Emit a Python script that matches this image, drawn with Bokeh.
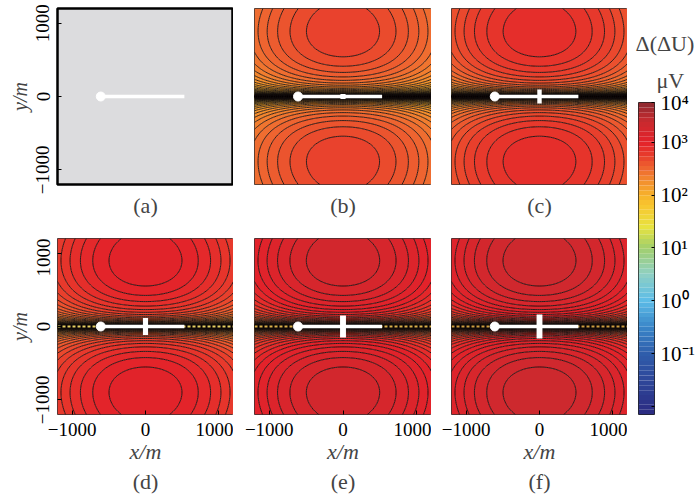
import numpy as np
from bokeh.plotting import figure
from bokeh.layouts import row, column
from bokeh.models import Range1d, FixedTicker, Title
from bokeh.embed import file_html
from bokeh.resources import INLINE

# ---------------- data ----------------
panel_names = ["(a)", "(b)", "(c)", "(d)", "(e)", "(f)"]
# log10 of the peak Δ(ΔU) (μV) in each panel; panel (a) has no anomaly
peak_log = [None, 2.73, 2.90, 3.05, 3.27, 3.35]
# half-width (km) of the dense band of contours along y = 0
band_width = [None, 0.09, 0.09, 0.12, 0.12, 0.12]
# contour interval (decades)
level_step = 0.05
# white cross at the target (width / height, m)
cross_width = [0, 70, 60, 70, 80, 80]
cross_height = [0, 70, 190, 230, 300, 330]
# transmitter line (m)
tx_x = [-610, 530]
tx_y = [0, 0]
# survey line through y = 0 shown dashed in (d)-(f)
survey_x = [-1200, 1200]
survey_y = [0, 0]
survey_color = [None, None, None, "#e6cf62", "#d9b04a", "#cc9c40"]
axis_ticks = [-1000, 0, 1000]
axis_labels = ["\u22121000", "0", "1000"]
cbar_ticks = [-2, -1, 0, 1, 2, 3, 3.7499]
cbar_labels = ["", "10\u207b\u00b9", "10\u2070", "10\u00b9", "10\u00b2", "10\u00b3", "10\u2074"]
cbar_low, cbar_high = -2.15, 3.75
# colormap stops (log10 μV -> colour)
cmap_pos = [-2.15, -1.5, -1.0, -0.5, 0.0, 0.5, 1.0, 1.4, 1.8, 2.0, 2.25, 2.5, 2.75, 3.0, 3.4, 3.75]
cmap_col = ["#2b2a80", "#2e479a", "#2f5dab", "#3a86c8", "#5cbce8", "#8fd0c4", "#a2cf6c",
            "#e8e340", "#f8c630", "#f7b22b", "#f3902e", "#ee6630", "#e83c2c", "#e3222a",
            "#c82a2f", "#8c2a30"]
# shape of the anomaly (km): peak distance from the line, decay along x, slope away from line
peak_y, decay_x, slope_y, eps = 0.85, 0.185, 0.5, 0.002

FONT = "Liberation Serif"


def hex2rgb(h):
    h = h.lstrip("#")
    return np.array([int(h[i:i + 2], 16) for i in (0, 2, 4)], float)


_rgb = np.array([hex2rgb(c) for c in cmap_col])


def cmap(v):
    v = min(max(v, cmap_pos[0]), cmap_pos[-1])
    r = [np.interp(v, cmap_pos, _rgb[:, k]) for k in range(3)]
    return "#%02x%02x%02x" % tuple(int(round(c)) for c in r)


def field(pk, near_y):
    s = np.linspace(-1, 1, 301)
    v = 1.2 * np.sinh(4 * s) / np.sinh(4)
    u = np.linspace(-1.2, 1.2, 97)
    U, V = np.meshgrid(u, v)
    r = np.sqrt(V ** 2 + eps ** 2)
    b = slope_y / (2 * peak_y ** 2 * np.log(10))
    Z = (pk + slope_y * np.log10(r / peak_y) - b * (V ** 2 - peak_y ** 2) - decay_x * U ** 2
         + 0.5 * np.log10(r / (r + near_y)) - 0.5 * np.log10(peak_y / (peak_y + near_y)))
    return U * 1000, V * 1000, Z


def make_panel(i, width, height, left, right, top, bottom, show_x, show_y):
    p = figure(width=width, height=height, output_backend="svg", toolbar_location=None,
               x_range=Range1d(-1200, 1200), y_range=Range1d(-1200, 1200),
               x_axis_location="below" if show_x else None,
               y_axis_location="left" if show_y else None,
               min_border_left=left, min_border_right=right,
               min_border_top=top, min_border_bottom=bottom)
    p.grid.visible = False
    p.outline_line_color = "#333333"
    p.outline_line_width = 1
    if peak_log[i] is None:
        p.background_fill_color = "#dcdcde"
        p.outline_line_color = "black"
        p.outline_line_width = 2.5
    else:
        X, Y, Z = field(peak_log[i], band_width[i])
        zmax = Z.max()
        lv = [zmax + 0.01]
        cur = peak_log[i] - 0.045
        zmin = Z.min()
        while cur > zmin:
            lv.append(cur)
            cur -= level_step
        lv.append(zmin - 0.05)
        lv = sorted(lv)
        cols = [cmap(0.5 * (lv[k] + lv[k + 1])) for k in range(len(lv) - 1)]
        p.contour(X, Y, Z, levels=lv, fill_color=cols, line_color="#100c0c", line_width=0.85)
        if survey_color[i]:
            p.line(survey_x, survey_y, line_color=survey_color[i], line_width=2, line_dash="3 2")
    p.line(tx_x, tx_y, line_color="white", line_width=3.5)
    p.scatter(tx_x[:1], tx_y[:1], size=9, fill_color="white", line_color="white")
    if cross_height[i] > 0:
        p.rect(x=[0], y=[0], width=[cross_width[i]], height=[cross_height[i]],
               fill_color="white", line_color=None)
    for ax in ([p.xaxis[0]] if show_x else []) + ([p.yaxis[0]] if show_y else []):
        ax.ticker = FixedTicker(ticks=axis_ticks)
        ax.major_label_overrides = {t: l for t, l in zip(axis_ticks, axis_labels)}
        ax.minor_tick_line_color = None
        ax.major_tick_in = 4
        ax.major_tick_out = 0
        ax.axis_line_color = None
        ax.major_label_text_font = FONT
        ax.major_label_text_color = "black"
        ax.major_label_text_font_size = "19px"
        ax.axis_label_text_font = FONT
        ax.axis_label_text_font_style = "italic"
    if show_x:
        p.xaxis.axis_label = "x/m"
        p.xaxis.axis_label_text_font_size = "22px"
        p.xaxis.major_label_standoff = 8
        p.xaxis.axis_label_standoff = 0
    if show_y:
        p.yaxis.axis_label = "y/m"
        p.yaxis.axis_label_text_font_size = "20px"
        p.yaxis.major_label_orientation = "vertical"
        p.yaxis.major_label_standoff = 8
        p.yaxis.axis_label_standoff = 3
    p.add_layout(Title(text=panel_names[i], align="center", text_font=FONT,
                       text_font_size="22px", text_font_style="normal",
                       standoff=0 if show_x else 13), "below")
    return p


# frames: 176 x 176 px
pa = make_panel(0, 233, 238, 57, 0, 8, 54, False, True)
pb = make_panel(1, 198, 238, 21, 0, 8, 54, False, False)
pc = make_panel(2, 196, 238, 20, 0, 8, 54, False, False)
pd = make_panel(3, 233, 258, 57, 0, 0, 82, True, True)
pe = make_panel(4, 198, 258, 21, 0, 0, 82, True, False)
pf = make_panel(5, 196, 258, 20, 0, 0, 82, True, False)

# colour bar
cb = figure(width=70, height=496, output_backend="svg", toolbar_location=None,
            x_range=Range1d(0, 1), y_range=Range1d(cbar_low, cbar_high),
            x_axis_location=None, y_axis_location="right",
            min_border_left=11, min_border_right=40, min_border_top=102, min_border_bottom=82)
cb.grid.visible = False
nb = 64
edges = np.linspace(cbar_low, cbar_high, nb + 1)
cb.quad(left=0, right=1, bottom=edges[:-1], top=edges[1:],
        fill_color=[cmap(0.5 * (edges[k] + edges[k + 1])) for k in range(nb)], line_color=None)
cb.outline_line_color = "#222222"
ya = cb.yaxis[0]
ya.ticker = FixedTicker(ticks=cbar_ticks)
ya.major_label_overrides = {t: l for t, l in zip(cbar_ticks, cbar_labels)}
ya.minor_tick_line_color = None
ya.major_tick_in = 3
ya.major_tick_out = 0
ya.axis_line_color = None
ya.major_label_text_font = FONT
ya.major_label_text_font_size = "21px"
ya.major_label_text_color = "black"
ya.major_label_standoff = 6
cb.add_layout(Title(text="\u03bcV", align="left", offset=18, text_font=FONT,
                    text_font_size="22px", text_font_style="normal", standoff=20), "above")
cb.add_layout(Title(text="\u0394(\u0394U)", align="left", offset=-3, text_font=FONT,
                    text_font_size="22px", text_font_style="normal", standoff=0), "above")

layout = row(column(row(pa, pb, pc), row(pd, pe, pf)), cb)
open("out.html", "w").write(file_html(layout, INLINE))
